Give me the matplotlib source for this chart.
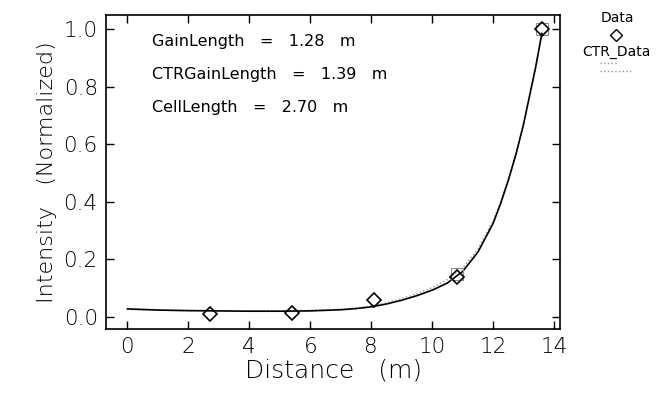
import numpy as np
import matplotlib
matplotlib.use('Agg')
from matplotlib import pyplot as plt

# data
dist = [2.7, 5.4, 8.1, 10.8, 13.6]
intensity = [0.010, 0.015, 0.058, 0.138, 1.0]

ctr_dist = [10.8, 13.6]
ctr_intensity = [0.150, 1.0]

# fitted curves
fit_x = [0.0, 1.0, 2.0, 3.0, 4.0, 5.0, 6.0, 7.0, 7.5, 8.0, 8.5, 9.0, 9.5, 10.0,
         10.5, 11.0, 11.5, 12.0, 12.25, 12.5, 12.75, 13.0, 13.2, 13.4, 13.6]
fit_y = [0.028, 0.024, 0.022, 0.021, 0.020, 0.020, 0.021, 0.025, 0.029, 0.035,
         0.045, 0.058, 0.074, 0.093, 0.118, 0.158, 0.225, 0.325, 0.395, 0.475,
         0.565, 0.670, 0.770, 0.870, 0.985]
ctr_fit_y = [0.026, 0.023, 0.021, 0.021, 0.021, 0.021, 0.023, 0.027, 0.031, 0.038,
             0.049, 0.063, 0.081, 0.102, 0.130, 0.170, 0.236, 0.334, 0.402, 0.480,
             0.568, 0.670, 0.768, 0.866, 0.985]

gain_length = 1.28
ctr_gain_length = 1.39
cell_length = 2.70

xticks = [0, 2, 4, 6, 8, 10, 12, 14]
yticks = [0.0, 0.2, 0.4, 0.6, 0.8, 1.0]

plt.rcParams['font.family'] = 'DejaVu Sans'

fig = plt.figure(figsize=(6.59, 3.95), dpi=100)
ax = fig.add_axes([0.161, 0.167, 0.689, 0.795])

ax.plot(fit_x, ctr_fit_y, color='0.6', linestyle=':', linewidth=1.0)
ax.plot(fit_x, fit_y, color='black', linewidth=1.2)
ax.plot(ctr_dist, ctr_intensity, linestyle='none', marker='s', markersize=8,
        markerfacecolor='none', markeredgecolor='0.55', markeredgewidth=0.8)
ax.plot(dist, intensity, linestyle='none', marker='D', markersize=7,
        markerfacecolor='none', markeredgecolor='black', markeredgewidth=1.2)

ax.set_xlim(-0.7, 14.2)
ax.set_ylim(-0.042, 1.049)
ax.set_xticks(xticks)
ax.set_yticks(yticks)
ax.set_xticklabels([str(t) for t in xticks], fontweight='light', color='black')
ax.set_yticklabels(['%.1f' % t for t in yticks], fontweight='light', color='black')
ax.tick_params(direction='in', top=True, right=True, length=6, width=1,
               labelsize=15.5, pad=6)
for s in ax.spines.values():
    s.set_linewidth(1.2)

ax.set_xlabel('Distance   (m)', fontsize=18, labelpad=1, fontweight='light')
ax.set_ylabel('Intensity   (Normalized)', fontsize=16, labelpad=5, fontweight='light')

ax.text(0.1, 0.915, 'GainLength   =   %.2f   m' % gain_length, transform=ax.transAxes,
        fontsize=11.5, va='center')
ax.text(0.1, 0.81, 'CTRGainLength   =   %.2f   m' % ctr_gain_length, transform=ax.transAxes,
        fontsize=11.5, va='center')
ax.text(0.1, 0.705, 'CellLength   =   %.2f   m' % cell_length, transform=ax.transAxes,
        fontsize=11.5, va='center')

# legend drawn outside on the right
fig.text(0.937, 0.955, 'Data', fontsize=10, ha='center', va='center')
fig.lines.append(plt.Line2D([0.935], [0.912], transform=fig.transFigure, marker='D',
                            markersize=6, markerfacecolor='none',
                            markeredgecolor='black', linestyle='none'))
fig.text(0.935, 0.868, 'CTR_Data', fontsize=10, ha='center', va='center')
fig.lines.append(plt.Line2D([0.91, 0.935], [0.84, 0.84], transform=fig.transFigure,
                            color='0.6', linestyle=':', linewidth=1))
fig.lines.append(plt.Line2D([0.91, 0.935, 0.96], [0.82, 0.82, 0.82], transform=fig.transFigure,
                            color='0.6', linestyle=':', linewidth=1))

fig.savefig('out.png', dpi=100)
